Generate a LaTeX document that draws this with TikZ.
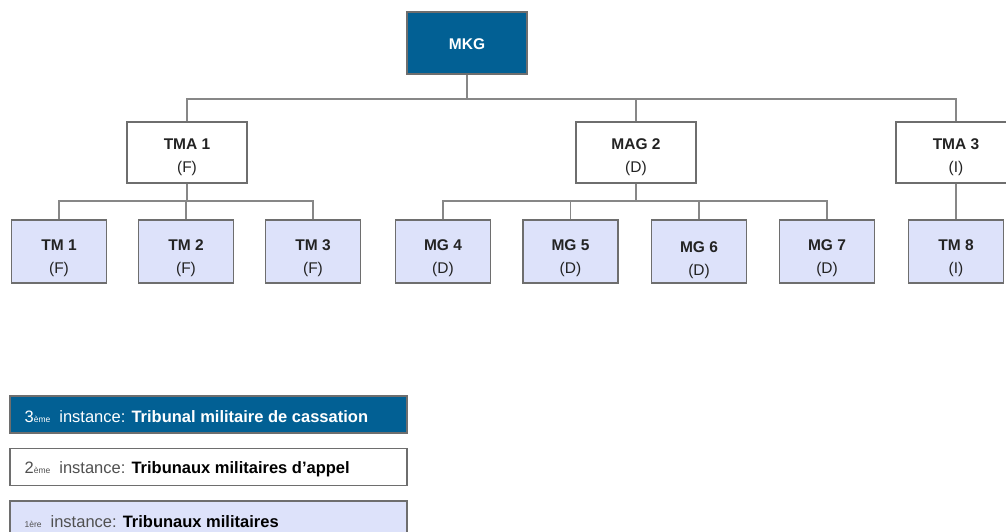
\documentclass[tikz,border=0pt]{standalone}
\usepackage{fontspec}
\setmainfont{Liberation Sans}
\definecolor{darkb}{RGB}{2,96,148}
\definecolor{lightb}{RGB}{221,226,250}
\definecolor{edge}{RGB}{110,110,110}
\definecolor{conncol}{RGB}{135,135,135}
\definecolor{txt}{RGB}{35,35,35}
\definecolor{soft}{RGB}{80,80,80}
\newcommand{\apprule}{\rule{0pt}{21pt}}
\newcommand{\trrule}{\rule{0pt}{24pt}}
\tikzset{
  base/.style={draw=edge, line width=1.1pt, align=center, inner sep=0pt,
    font=\fontsize{15.5}{23}\selectfont, text=txt},
  topbox/.style={base, fill=darkb, text=white, minimum width=120pt, minimum height=62pt},
  appbox/.style={base, fill=white, minimum width=120pt, minimum height=61pt},
  trbox/.style={base, fill=lightb, minimum width=95pt, minimum height=63pt},
  legbox/.style={draw=edge, line width=1.1pt, minimum width=397pt, minimum height=37pt,
    inner sep=0pt},
  legtext/.style={anchor=west, inner sep=0pt, font=\fontsize{16.5}{18}\selectfont},
  conn/.style={draw=conncol, line width=1.3pt}
}
\begin{document}
\begin{tikzpicture}[x=1pt,y=-1pt]
\useasboundingbox (0,0) rectangle (1006,531);
\clip (0,0) rectangle (1006,531);
% top
\node[topbox] (mkg) at (467,43) {\rule{0pt}{14pt}\textbf{MKG}};
% appeal level
\node[appbox] (tma1) at (187,152.5) {\apprule\textbf{TMA 1}\\(F)};
\node[appbox] (mag2) at (636,152.5) {\apprule\textbf{MAG 2}\\(D)};
\node[appbox] (tma3) at (956,152.5) {\apprule\textbf{TMA 3}\\(I)};
% first level
\node[trbox] (tm1) at (59,251.5) {\trrule\textbf{TM 1}\\(F)};
\node[trbox] (tm2) at (186,251.5) {\trrule\textbf{TM 2}\\(F)};
\node[trbox] (tm3) at (313,251.5) {\trrule\textbf{TM 3}\\(F)};
\node[trbox] (mg4) at (443,251.5) {\trrule\textbf{MG 4}\\(D)};
\node[trbox] (mg5) at (570.5,251.5) {\trrule\textbf{MG 5}\\(D)};
\node[trbox] (mg6) at (699,251.5) {\rule{0pt}{28pt}\textbf{MG 6}\\(D)};
\node[trbox] (mg7) at (827,251.5) {\trrule\textbf{MG 7}\\(D)};
\node[trbox] (tm8) at (956,251.5) {\trrule\textbf{TM 8}\\(I)};
% connectors
\coordinate (b1) at (0,99);
\coordinate (b2) at (0,201);
\draw[conn] (mkg.south) -- (mkg.south |- b1);
\draw[conn] (tma1.north) |- (tma3.north |- b1) -- (tma3.north);
\draw[conn] (mag2.north) -- (mag2.north |- b1);
\draw[conn] (tma1.south) -- (tma1.south |- b2);
\draw[conn] (tm1.north) |- (tm3.north |- b2) -- (tm3.north);
\draw[conn] (tm2.north) -- (tm2.north |- b2);
\draw[conn] (mag2.south) -- (mag2.south |- b2);
\draw[conn] (mg4.north) |- (mg7.north |- b2) -- (mg7.north);
\draw[conn] (mg5.north) -- (mg5.north |- b2);
\draw[conn] (mg6.north) -- (mg6.north |- b2);
\draw[conn] (tma3.south) -- (tm8.north);
% legend
\node[legbox, fill=darkb] (l3) at (208.5,414.5) {};
\node[legbox, fill=white] (l2) at (208.5,467) {};
\node[legbox, fill=lightb] (l1) at (208.5,519.5) {};
\node[legtext, text=white] (t3) at ([xshift=15pt,yshift=-2.5pt]l3.west)
  {3{\fontsize{8.5}{9}\selectfont ème}\hspace{9pt}instance: \textbf{Tribunal militaire de cassation}};
\node[legtext, text=soft] (t2) at ([xshift=15pt,yshift=-2.5pt]l2.west)
  {2{\fontsize{8.5}{9}\selectfont ème}\hspace{9pt}instance: \textcolor{black}{\textbf{Tribunaux militaires d'appel}}};
\node[legtext, text=soft] (t1) at ([xshift=15pt,yshift=-2.5pt]l1.west)
  {{\fontsize{8.5}{9}\selectfont 1ère}\hspace{9pt}instance: \textcolor{black}{\textbf{Tribunaux militaires}}};
\end{tikzpicture}
\end{document}
